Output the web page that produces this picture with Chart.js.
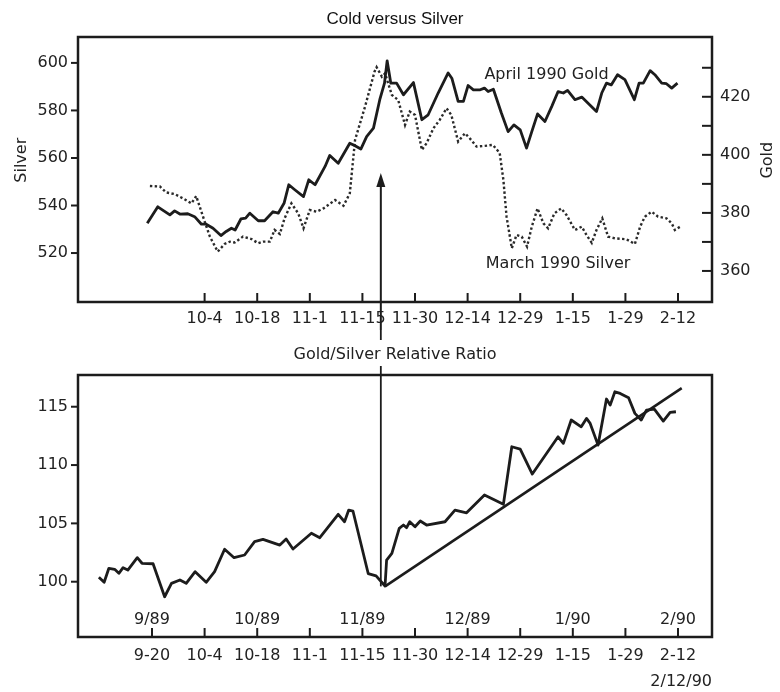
<!DOCTYPE html>
<html><head><meta charset="utf-8">
<script src="https://cdn.jsdelivr.net/npm/chart.js@4/dist/chart.umd.min.js"></script>
<style>
html,body{margin:0;padding:0;background:#fff;}
#wrap{position:relative;width:780px;height:692px;overflow:hidden;background:#fff;}
#c1{position:absolute;left:0;top:0;width:780px;height:330px;}
#c2{position:absolute;left:0;top:330px;width:780px;height:362px;}
</style></head><body>
<div id="wrap"><canvas id="c1" width="780" height="330"></canvas><canvas id="c2" width="780" height="362"></canvas></div>
<script>
// ---- data (x = trading days from 9-20-89) ----
const GOLD_DAYS = [-0.9,1.1,3.4,4.3,5.3,6.8,8.1,9.4,10.3,11.6,13.1,14.1,15.1,15.8,16.9,17.8,18.6,20.2,21.4,23.0,24.0,25.1,26.0,27.2,28.8,29.8,31.0,32.9,33.8,35.4,37.6,38.6,39.7,40.8,42.1,43.3,44.2,44.7,45.4,46.5,47.8,49.7,51.3,52.5,54.4,56.3,57.0,58.2,59.2,60.1,61.1,62.4,63.2,63.9,64.9,66.4,67.7,68.8,70.0,71.2,72.2,73.3,74.7,76.0,77.2,78.2,79.0,80.4,81.7,82.9,84.5,85.5,86.4,87.3,88.5,89.9,91.7,92.6,93.4,94.7,95.6,96.9,97.8,98.8,99.9];
const GOLD_VALUES = [376.4,382.1,379.3,380.7,379.6,379.7,378.7,376.1,376.1,374.7,372.2,373.6,374.7,374.1,377.9,378.2,379.9,377.3,377.3,380.4,379.9,383.3,389.7,387.9,385.6,391.4,389.7,396.0,399.8,397.1,404.0,403.1,402.0,406.3,409.2,419.0,424.7,432.4,424.7,424.7,420.7,424.9,412.1,413.8,421.3,428.2,426.4,418.4,418.4,423.9,422.4,422.4,423.0,421.8,422.6,414.5,408.0,410.3,408.6,402.3,408.0,414.1,411.5,416.7,421.8,421.3,422.2,419.0,419.9,417.8,414.9,421.3,424.7,424.1,427.6,425.9,419.0,424.7,424.7,429.0,427.6,424.7,424.5,423.0,424.7];
const SILVER_DAYS = [-0.4,1.5,2.7,4.3,5.9,7.5,8.4,9.7,11.0,12.5,13.8,14.8,15.7,17.3,18.9,20.2,21.1,22.4,23.3,24.3,25.2,26.5,27.8,28.8,30.0,31.3,32.6,34.8,36.4,37.6,38.6,40.5,42.3,42.7,43.7,44.3,45.6,46.8,48.1,49.0,50.0,51.3,52.2,53.5,54.7,56.0,56.9,58.2,59.5,60.4,61.7,63.3,64.8,66.1,66.8,67.4,68.4,69.3,70.3,71.3,72.2,73.3,74.4,75.3,76.5,77.8,78.8,80.4,81.7,82.6,83.6,84.5,85.6,86.7,88.0,90.2,91.8,92.8,93.7,95.0,96.2,97.8,98.8,99.4,100.4];
const SILVER_VALUES = [548.2,548.0,545.5,544.8,543.0,540.9,544.0,535.3,526.9,520.6,523.8,524.8,524.4,526.9,525.9,524.1,524.8,524.8,529.7,528.0,534.6,540.9,536.7,530.4,538.1,537.4,538.8,542.3,539.9,545.1,567.6,581.6,596.3,598.2,594.2,595.6,586.5,584.4,573.9,579.5,578.1,563.4,566.2,572.5,576.0,580.9,578.1,566.9,570.4,568.3,564.8,565.1,565.5,562.1,550.8,535.4,522.0,527.6,526.9,522.7,531.1,538.8,532.5,530.4,536.7,538.8,536.0,529.7,531.1,527.6,524.3,529.7,534.6,526.9,526.2,525.8,523.8,531.1,535.3,537.4,535.3,534.6,532.5,529.7,531.1];
const RATIO_DAYS = [-10.1,-9.1,-8.2,-7.1,-6.3,-5.5,-4.6,-2.8,-1.9,0.2,2.4,3.7,5.3,6.5,8.2,10.3,11.9,13.8,15.6,17.6,19.5,21.1,24.3,25.5,26.8,30.3,31.9,35.4,36.6,37.4,38.2,41.1,42.6,44.3,44.6,45.6,47.0,47.8,48.4,49.0,50.0,51.0,52.2,55.7,57.6,59.8,63.2,66.8,68.4,70.0,72.3,77.2,78.2,79.7,81.6,82.6,83.3,84.8,86.4,87.1,88.0,89.0,90.6,91.8,93.0,94.0,95.5,97.2,98.5,99.6];
const RATIO_VALUES = [100.38,99.95,101.15,101.06,100.72,101.20,101.00,102.06,101.58,101.54,98.71,99.86,100.15,99.86,100.86,99.95,100.86,102.78,102.06,102.29,103.43,103.63,103.14,103.66,102.80,104.15,103.77,105.78,105.14,106.14,106.06,100.7,100.5,99.63,101.86,102.43,104.58,104.86,104.63,105.14,104.71,105.20,104.86,105.14,106.14,105.91,107.43,106.63,111.57,111.37,109.23,112.42,111.86,113.86,113.28,114.00,113.57,111.71,115.66,115.14,116.28,116.14,115.77,114.43,113.86,114.71,114.80,113.77,114.52,114.57];
const TREND_DAYS = [44.3, 100.7];
const TREND_VALUES = [99.6, 116.6];

const TICK_DAYS = [0,10,20,30,40,50,60,70,80,90,100];
const TICK_LABELS = ['9-20','10-4','10-18','11-1','11-15','11-30','12-14','12-29','1-15','1-29','2-12'];
const TOP_TICK_DAYS = [10,20,30,40,50,60,70,80,90,100];
const MONTH_DAYS = [0,20,40,60,80,100];
const MONTH_LABELS = ['9/89','10/89','11/89','12/89','1/90','2/90'];
const SILVER_TICKS = [520,540,560,580,600];
const GOLD_TICKS = [360,370,380,390,400,410,420,430];
const RATIO_TICKS = [100,105,110,115];

const ARROW_DAY = 43.5;      // arrow position (day)
const ARROW_TIP = 553.7;     // arrow tip on silver scale
const ARROW_BASE = 99.6;     // arrow foot on ratio scale
const GOLD_NOTE = [75.0, 427.5];
const SILVER_NOTE = [77.2, 515.4];

// ---- styling / helpers ----
const INK = '#1c1c1c';
const FONT = 'DejaVu Sans';
Chart.defaults.font.family = FONT;
Chart.defaults.font.size = 16;
Chart.defaults.color = '#222';

function pts(xs, ys){ return xs.map((x,i)=>({x:x, y:ys[i]})); }
function seg(ctx,x1,y1,x2,y2,w){ ctx.beginPath(); ctx.lineWidth=w; ctx.moveTo(x1,y1); ctx.lineTo(x2,y2); ctx.stroke(); }
function setTicks(arr){ return s => { s.ticks = arr.map(v=>({value:v})); }; }
const hiddenGrid = {display:false, drawTicks:false};
const X_MIN = -14.07, X_MAX = 106.46;

const topDecor = {
  id:'topDecor',
  afterDraw(chart){
    const {ctx, chartArea:a, scales} = chart;
    const xs=scales.x, ys=scales.ys, yg=scales.yg;
    ctx.save();
    ctx.strokeStyle=INK; ctx.fillStyle=INK; ctx.lineCap='butt';
    ctx.lineWidth=2.5; ctx.strokeRect(a.left,a.top,a.right-a.left,a.bottom-a.top);
    ys.ticks.forEach(t=>{ const y=ys.getPixelForValue(t.value); seg(ctx,a.left-7,y,a.left,y,2); });
    yg.ticks.forEach(t=>{ const y=yg.getPixelForValue(t.value); seg(ctx,a.right-10,y,a.right,y,2); });
    xs.ticks.forEach(t=>{ const x=xs.getPixelForValue(t.value); seg(ctx,x,a.bottom-9,x,a.bottom,2); });
    // arrow
    const ax=xs.getPixelForValue(ARROW_DAY), tip=ys.getPixelForValue(ARROW_TIP);
    seg(ctx,ax,chart.height,ax,tip+10,2);
    ctx.beginPath(); ctx.moveTo(ax,tip); ctx.lineTo(ax-4.5,tip+14); ctx.lineTo(ax+4.5,tip+14); ctx.closePath(); ctx.fill();
    // notes
    ctx.fillStyle='#222';
    ctx.font='16px "'+FONT+'"'; ctx.textAlign='center'; ctx.textBaseline='middle';
    ctx.fillText('April 1990 Gold', xs.getPixelForValue(GOLD_NOTE[0]), yg.getPixelForValue(GOLD_NOTE[1]));
    ctx.fillText('March 1990 Silver', xs.getPixelForValue(SILVER_NOTE[0]), ys.getPixelForValue(SILVER_NOTE[1]));
    // axis titles
    const cy = a.top + (a.bottom-a.top)*0.465;
    ctx.save(); ctx.translate(22, cy); ctx.rotate(-Math.PI/2); ctx.fillText('Silver',0,0); ctx.restore();
    ctx.save(); ctx.translate(768, cy); ctx.rotate(-Math.PI/2); ctx.fillText('Gold',0,0); ctx.restore();
    ctx.restore();
  }
};

const bottomDecor = {
  id:'bottomDecor',
  afterDraw(chart){
    const {ctx, chartArea:a, scales} = chart;
    const xs=scales.x, ys=scales.y;
    ctx.save();
    ctx.strokeStyle=INK; ctx.fillStyle='#222';
    ctx.lineWidth=2.5; ctx.strokeRect(a.left,a.top,a.right-a.left,a.bottom-a.top);
    ys.ticks.forEach(t=>{ const y=ys.getPixelForValue(t.value); seg(ctx,a.left-7,y,a.left,y,2); });
    xs.ticks.forEach(t=>{ const x=xs.getPixelForValue(t.value); seg(ctx,x,a.bottom-9,x,a.bottom,2); });
    ctx.font='16px "'+FONT+'"'; ctx.textAlign='center'; ctx.textBaseline='middle';
    MONTH_DAYS.forEach((d,i)=>{ ctx.fillText(MONTH_LABELS[i], xs.getPixelForValue(d), a.bottom-17); });
    // vertical arrow shaft (continuation)
    const ax=xs.getPixelForValue(ARROW_DAY);
    seg(ctx,ax,0,ax,10,1.8);
    seg(ctx,ax,36,ax,ys.getPixelForValue(ARROW_BASE),1.8);
    ctx.restore();
  }
};

new Chart(document.getElementById('c1'), {
  type:'line',
  data:{ datasets:[
    { label:'April 1990 Gold', data:pts(GOLD_DAYS,GOLD_VALUES), yAxisID:'yg', borderColor:INK, borderWidth:2.8, pointRadius:0, tension:0, borderJoinStyle:'round' },
    { label:'March 1990 Silver', data:pts(SILVER_DAYS,SILVER_VALUES), yAxisID:'ys', borderColor:'#2a2a2a', borderWidth:2.4, borderDash:[2.4,2.4], pointRadius:0, tension:0 }
  ]},
  options:{
    responsive:false, animation:false, devicePixelRatio:1,
    layout:{ padding:{ left:10, right:0, top:0, bottom:0 } },
    plugins:{
      legend:{display:false}, tooltip:{enabled:false},
      title:{ display:true, text:'Cold versus Silver', color:'#111',
        font:{ family:'Liberation Sans', size:17, weight:'normal' }, padding:{ top:9, bottom:7.6 } }
    },
    scales:{
      x:{ type:'linear', min:X_MIN, max:X_MAX, afterBuildTicks:setTicks(TOP_TICK_DAYS),
          ticks:{ autoSkip:false, maxRotation:0, padding:7, callback:v=>TICK_LABELS[TICK_DAYS.indexOf(v)] },
          grid:hiddenGrid, border:{display:false}, afterFit:s=>{ s.height=28; } },
      ys:{ type:'linear', position:'left', min:499.4, max:610.9, afterBuildTicks:setTicks(SILVER_TICKS),
          ticks:{ padding:10 }, grid:hiddenGrid, border:{display:false}, afterFit:s=>{ s.width=68; } },
      yg:{ type:'linear', position:'right', min:349.3, max:440.6, afterBuildTicks:setTicks(GOLD_TICKS),
          ticks:{ padding:8, callback:v=> (v%20===0 ? String(v) : '') }, grid:hiddenGrid, border:{display:false}, afterFit:s=>{ s.width=68; } }
    }
  },
  plugins:[topDecor]
});

new Chart(document.getElementById('c2'), {
  type:'line',
  data:{ datasets:[
    { label:'Gold/Silver Relative Ratio', data:pts(RATIO_DAYS,RATIO_VALUES), borderColor:INK, borderWidth:2.8, pointRadius:0, tension:0, borderJoinStyle:'round' },
    { label:'Trend', data:pts(TREND_DAYS,TREND_VALUES), borderColor:INK, borderWidth:2.6, pointRadius:0, tension:0 }
  ]},
  options:{
    responsive:false, animation:false, devicePixelRatio:1,
    layout:{ padding:{ left:10, right:0, top:0, bottom:0 } },
    plugins:{
      legend:{display:false}, tooltip:{enabled:false},
      title:{ display:true, text:'Gold/Silver Relative Ratio', color:'#222',
        font:{ family:FONT, size:16, weight:'normal' }, padding:{ top:15.4, bottom:10.4 } }
    },
    scales:{
      x:{ type:'linear', min:X_MIN, max:X_MAX, afterBuildTicks:setTicks(TICK_DAYS),
          ticks:{ autoSkip:false, maxRotation:0, padding:9, callback:v=>TICK_LABELS[TICK_DAYS.indexOf(v)] },
          title:{ display:true, text:'2/12/90', align:'end', color:'#222', font:{family:FONT,size:16}, padding:{top:0,bottom:0.4} },
          grid:hiddenGrid, border:{display:false}, afterFit:s=>{ s.height=55; } },
      y:{ type:'linear', position:'left', min:95.26, max:117.72, afterBuildTicks:setTicks(RATIO_TICKS),
          ticks:{ padding:10 }, grid:hiddenGrid, border:{display:false}, afterFit:s=>{ s.width=68; } },
      yr:{ type:'linear', position:'right', min:0, max:1, display:true,
          ticks:{ display:false }, grid:hiddenGrid, border:{display:false}, afterFit:s=>{ s.width=68; } }
    }
  },
  plugins:[bottomDecor]
});
</script>
</body></html>
